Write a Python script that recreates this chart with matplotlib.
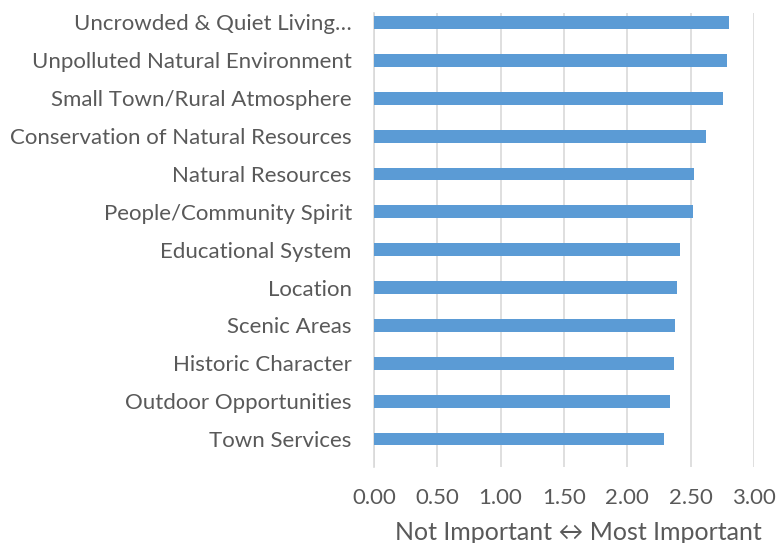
import matplotlib
matplotlib.use("Agg")
import matplotlib.pyplot as plt

categories = [
    "Uncrowded & Quiet Living…",
    "Unpolluted Natural Environment",
    "Small Town/Rural Atmosphere",
    "Conservation of Natural Resources",
    "Natural Resources",
    "People/Community Spirit",
    "Educational System",
    "Location",
    "Scenic Areas",
    "Historic Character",
    "Outdoor Opportunities",
    "Town Services",
]
values = [2.80, 2.79, 2.76, 2.62, 2.53, 2.52, 2.42, 2.39, 2.38, 2.37, 2.34, 2.29]
xticks = [0.0, 0.5, 1.0, 1.5, 2.0, 2.5, 3.0]
xlabel = "Not Important ↔ Most Important"

plt.rcParams['font.family'] = ['Lato', 'DejaVu Sans']
txt = '#595959'

fig = plt.figure(figsize=(7.78, 5.43), dpi=100)
ax = fig.add_axes([0.4807, 0.140, 0.969 - 0.4807, 0.976 - 0.140])

y = list(range(len(categories)))
ax.barh(y, values, height=0.34, color='#5B9BD5', zorder=3)
ax.set_ylim(11.74, -0.25)
ax.set_xlim(0, 3.0)
ax.set_xticks(xticks)
ax.set_xticklabels([f"{v:.2f}" for v in xticks], color=txt, fontsize=16)
ax.set_yticks(y)
ax.set_yticklabels(categories, color=txt, fontsize=16)
ax.tick_params(length=0, axis='y', pad=16)
ax.tick_params(length=0, axis='x', pad=15)
ax.grid(axis='x', color='#D9D9D9', linewidth=1.2, zorder=0)
for s in ['top', 'right', 'bottom']:
    ax.spines[s].set_visible(False)
ax.spines['left'].set_color('#D9D9D9')
ax.spines['left'].set_linewidth(1.2)
ax.set_xlabel(xlabel, color=txt, fontsize=18)
ax.xaxis.set_label_coords(0.537, -0.119)

fig.savefig("out.png", dpi=100)
